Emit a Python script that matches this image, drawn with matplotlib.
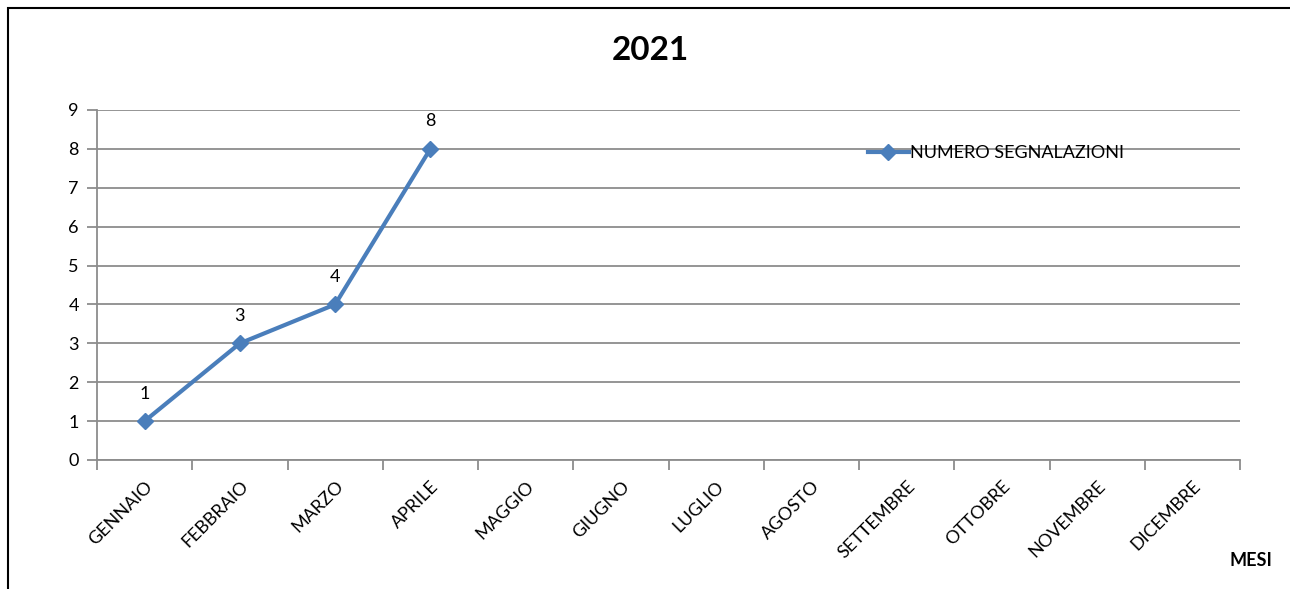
import matplotlib.pyplot as plt
from matplotlib.patches import Rectangle
import numpy as np

plt.rcParams['font.family'] = ['Lato', 'DejaVu Sans']

# Data
mesi = ["GENNAIO", "FEBBRAIO", "MARZO", "APRILE", "MAGGIO", "GIUGNO",
        "LUGLIO", "AGOSTO", "SETTEMBRE", "OTTOBRE", "NOVEMBRE", "DICEMBRE"]
segnalazioni = [1, 3, 4, 8]

blue = "#4A7EBB"
grid = "#8C8C8C"

fig = plt.figure(figsize=(12.9, 5.89), dpi=100)
ax = fig.add_axes([97 / 1290, 1 - 460 / 589, (1240 - 97) / 1290, 350 / 589])

# outer chart frame
fig.patches.append(Rectangle((8 / 1290, -0.1), 1.2, 1 - 8 / 589 + 0.1,
                             transform=fig.transFigure, fill=False,
                             edgecolor="black", linewidth=1.5))

x = np.arange(len(segnalazioni))
ax.plot(x, segnalazioni, color=blue, linewidth=3, marker="D", markersize=8,
        label="NUMERO SEGNALAZIONI", solid_joinstyle="round")
for xi, v in zip(x, segnalazioni):
    ax.annotate(str(v), (xi, v), xytext=(0, 14), textcoords="offset points",
                ha="center", va="bottom", fontsize=13)

ax.set_xlim(-0.5, len(mesi) - 0.5)
ax.set_ylim(0, 9)
ax.set_yticks(range(10))
ax.yaxis.grid(True, color=grid, linewidth=1.3)
ax.set_axisbelow(True)

ax.set_xticks(np.arange(len(mesi)))
ax.set_xticklabels(mesi, rotation=45, ha="right", va="top",
                   rotation_mode="anchor", fontsize=13)
ax.set_xticks(np.arange(len(mesi) + 1) - 0.5, minor=True)
ax.tick_params(axis="x", which="major", length=0, pad=13)
ax.tick_params(axis="x", which="minor", length=7, color=grid, width=1.3)
ax.tick_params(axis="y", length=7, color=grid, width=1.3, labelsize=13, pad=6)

for s in ["top", "right"]:
    ax.spines[s].set_visible(False)
for s in ["left", "bottom"]:
    ax.spines[s].set_color(grid)
    ax.spines[s].set_linewidth(1.3)

ax.legend(loc="upper left", bbox_to_anchor=(0.66, 0.945), frameon=False,
          fontsize=13, handlelength=2.3, handletextpad=0.05)

fig.text(650 / 1290, 1 - 50 / 589, "2021", ha="center", va="center",
         fontsize=24, fontweight="bold")
fig.text(1272 / 1290, 1 - 560 / 589, "MESI", ha="right", va="center",
         fontsize=13, fontweight="bold")

fig.savefig("out.png", dpi=100)
